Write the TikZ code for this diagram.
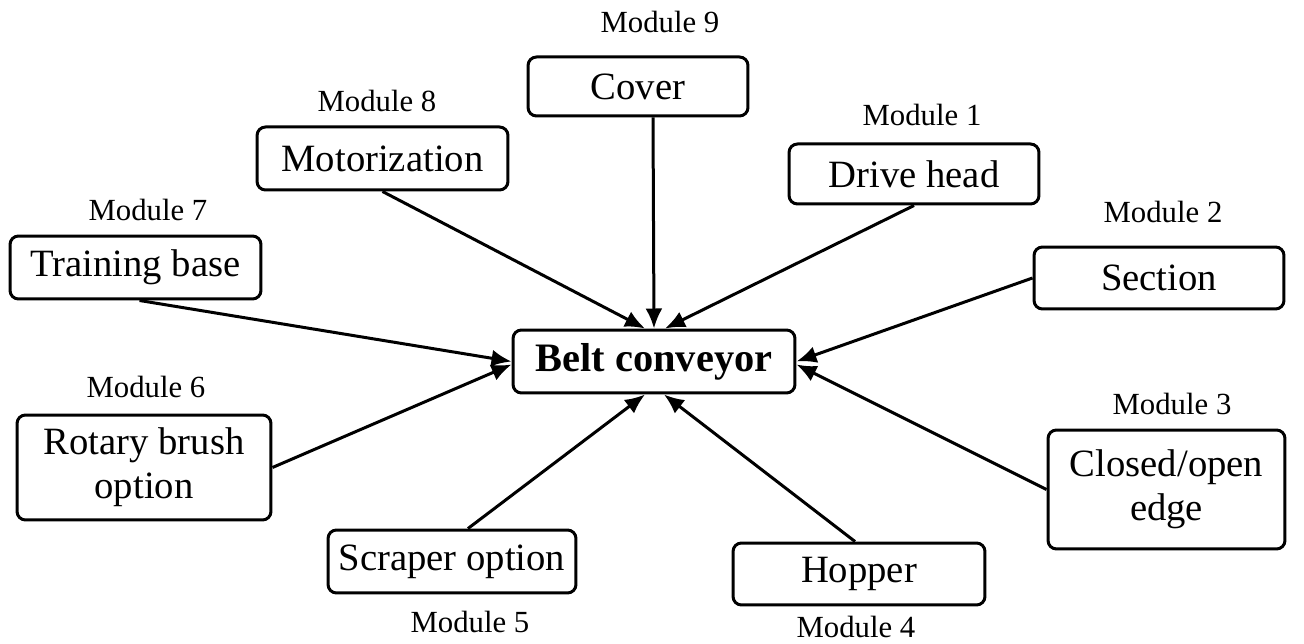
\documentclass[tikz,border=0pt]{standalone}
\usepackage{fontspec}
\setmainfont{Liberation Serif}
\usetikzlibrary{positioning, arrows.meta}

\begin{document}
\begin{tikzpicture}[
        x=0.02cm, y=-0.02cm,
        module/.style={
          align=center, draw, line width=0.6mm, rounded corners=0.17cm, inner sep=0pt,
          font=\fontsize{22}{25}\selectfont
        },
        hub/.style={
          module, font=\fontsize{23}{27}\selectfont\bfseries
        },
        tag/.style={
          inner sep=0pt, font=\fontsize{17.5}{21}\selectfont
        },
        link/.style={
          line width=0.6mm, -{Latex[length=0.4cm, width=0.34cm]}
        },
      ]
        \useasboundingbox (0,0) rectangle (1304,644);

        % centre
        \node [hub, minimum width=5.64cm, minimum height=1.26cm] (belt) at (654,361.5) {Belt conveyor};

        % modules
        \node [module, minimum width=4.4cm, minimum height=1.18cm] (cover) at (638,86.5) {Cover};
        \node [module, minimum width=5.02cm, minimum height=1.26cm] (motor) at (382.5,158.5) {Motorization};
        \node [module, minimum width=5cm, minimum height=1.2cm] (drive) at (914,174) {Drive head};
        \node [module, minimum width=5.02cm, minimum height=1.26cm] (training) at (135.5,267.5) {Training base};
        \node [module, minimum width=5cm, minimum height=1.24cm] (section) at (1159,278) {Section};
        \node [module, minimum width=5.08cm, minimum height=2.1cm] (rotary) at (144,467.5) {Rotary brush\\option};
        \node [module, minimum width=4.74cm, minimum height=2.38cm] (edge) at (1166.5,489.5) {Closed/open\\edge};
        \node [module, minimum width=4.96cm, minimum height=1.26cm] (scraper) at (452,561.5) {Scraper option};
        \node [module, minimum width=5.04cm, minimum height=1.24cm] (hopper) at (859,574) {Hopper};

        % labels
        \node [tag] (cover_tag) at (660,22) {Module 9};
        \node [tag] (motor_tag) at (377,101) {Module 8};
        \node [tag] (drive_tag) at (922,115) {Module 1};
        \node [tag] (training_tag) at (148,210) {Module 7};
        \node [tag] (section_tag) at (1163,212) {Module 2};
        \node [tag] (rotary_tag) at (146,387) {Module 6};
        \node [tag] (edge_tag) at (1172,404) {Module 3};
        \node [tag] (scraper_tag) at (470,622) {Module 5};
        \node [tag] (hopper_tag) at (856,627) {Module 4};

        % arrows
        \draw [link] ([xshift=0.3cm]cover.south) -- (belt.north);
        \draw [link] (motor.south) -- ([xshift=-0.18cm]belt.north);
        \draw [link] (drive.south) -- ([xshift=0.22cm]belt.north);
        \draw [link] ([xshift=0.08cm]training.south) -- (belt.west);
        \draw [link] (section.west) -- (belt.east);
        \draw [link] (rotary.east) -- ([yshift=-0.06cm]belt.west);
        \draw [link] (edge.west) -- ([yshift=-0.06cm]belt.east);
        \draw [link] ([xshift=0.32cm]scraper.north) -- ([xshift=-0.18cm]belt.south);
        \draw [link] ([xshift=-0.08cm]hopper.north) -- ([xshift=0.2cm]belt.south);

      \end{tikzpicture}
\end{document}
